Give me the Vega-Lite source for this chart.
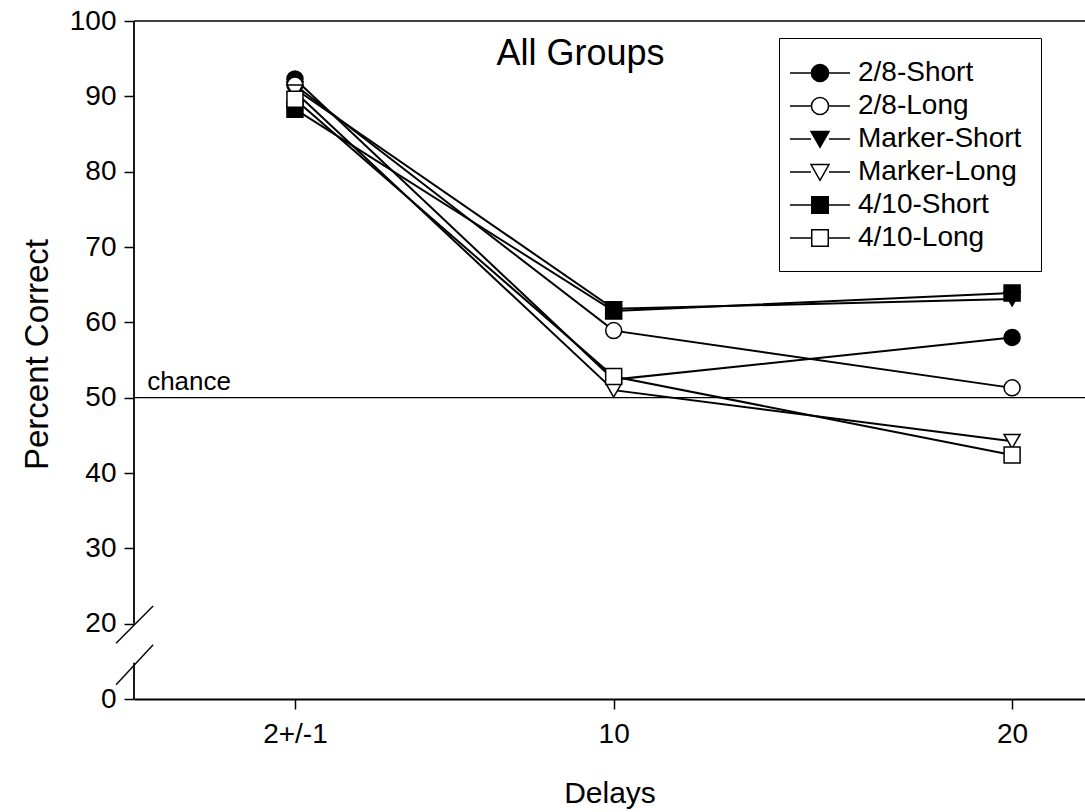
{
  "$schema": "https://vega.github.io/schema/vega-lite/v6.json",
  "width": 951,
  "height": 678,
  "autosize": {"type": "none"},
  "padding": {"left": 134, "top": 21, "right": 0, "bottom": 113},
  "background": "white",
  "title": {
    "text": "All Groups",
    "font": "Liberation Sans",
    "fontSize": 36,
    "fontWeight": "normal",
    "color": "black",
    "anchor": "middle",
    "baseline": "alphabetic",
    "offset": -94,
    "dx": -29
  },
  "config": {
    "view": {"stroke": null},
    "font": "Liberation Sans",
    "axis": {
      "labelFont": "Liberation Sans",
      "titleFont": "Liberation Sans",
      "labelColor": "black",
      "titleColor": "black",
      "domainColor": "black",
      "tickColor": "black",
      "titleFontWeight": "normal",
      "grid": false
    }
  },
  "datasets": {
    "scores": [
      {"group": "2/8-Short", "x": 2, "y": 92.3},
      {"group": "2/8-Short", "x": 10, "y": 52.4},
      {"group": "2/8-Short", "x": 20, "y": 58.0},
      {"group": "Marker-Short", "x": 2, "y": 91.0},
      {"group": "Marker-Short", "x": 10, "y": 61.8},
      {"group": "Marker-Short", "x": 20, "y": 63.1},
      {"group": "4/10-Short", "x": 2, "y": 88.3},
      {"group": "4/10-Short", "x": 10, "y": 61.5},
      {"group": "4/10-Short", "x": 20, "y": 63.9},
      {"group": "2/8-Long", "x": 2, "y": 91.5},
      {"group": "2/8-Long", "x": 10, "y": 58.9},
      {"group": "2/8-Long", "x": 20, "y": 51.3},
      {"group": "Marker-Long", "x": 2, "y": 90.6},
      {"group": "Marker-Long", "x": 10, "y": 51.0},
      {"group": "Marker-Long", "x": 20, "y": 44.2},
      {"group": "4/10-Long", "x": 2, "y": 89.6},
      {"group": "4/10-Long", "x": 10, "y": 52.8},
      {"group": "4/10-Long", "x": 20, "y": 42.4}
    ],
    "hlines": [{"y": 50}, {"y": 100}],
    "yaxis": [
      {"x": -2.04, "y": 20, "y2": 100},
      {"x": -2.04, "y": 10, "y2": 14.8}
    ],
    "breaks": [
      {"x": -2.49, "y": 17.4, "x2": -1.56, "y2": 22.35},
      {"x": -2.49, "y": 11.9, "x2": -1.56, "y2": 17.2}
    ],
    "notes": [{"x": -1.71, "y": 50, "label": "chance"}]
  },
  "layer": [
    {
      "data": {"name": "hlines"},
      "mark": {"type": "rule", "color": "black", "strokeWidth": 1.3},
      "encoding": {
        "y": {"field": "y", "type": "quantitative", "scale": {"domain": [10, 100], "nice": false, "zero": false}}
      }
    },
    {
      "data": {"name": "yaxis"},
      "mark": {"type": "rule", "color": "black", "strokeWidth": 1.8},
      "encoding": {
        "x": {"field": "x", "type": "quantitative", "scale": {"domain": [-2.04, 21.83], "nice": false, "zero": false}},
        "y": {"field": "y", "type": "quantitative", "scale": {"domain": [10, 100], "nice": false, "zero": false}},
        "y2": {"field": "y2"}
      }
    },
    {
      "data": {"name": "breaks"},
      "mark": {"type": "rule", "color": "black", "strokeWidth": 1.4},
      "encoding": {
        "x": {"field": "x", "type": "quantitative", "scale": {"domain": [-2.04, 21.83], "nice": false, "zero": false}},
        "y": {"field": "y", "type": "quantitative", "scale": {"domain": [10, 100], "nice": false, "zero": false}},
        "x2": {"field": "x2"},
        "y2": {"field": "y2"}
      }
    },
    {
      "data": {"name": "notes"},
      "mark": {"type": "text", "align": "left", "baseline": "alphabetic", "dy": -8, "fontSize": 26, "font": "Liberation Sans", "color": "black"},
      "encoding": {
        "x": {"field": "x", "type": "quantitative", "scale": {"domain": [-2.04, 21.83], "nice": false, "zero": false}},
        "y": {"field": "y", "type": "quantitative", "scale": {"domain": [10, 100], "nice": false, "zero": false}},
        "text": {"field": "label"}
      }
    },
    {
      "data": {"name": "scores"},
      "mark": {"type": "line", "color": "black", "strokeWidth": 2},
      "encoding": {
        "x": {
          "field": "x", "type": "quantitative",
          "scale": {"domain": [-2.04, 21.83], "nice": false, "zero": false},
          "axis": {
            "title": "Delays",
            "values": [2, 10, 20],
            "labelExpr": "datum.value == 2 ? '2+/-1' : datum.label",
            "labelFontSize": 28,
            "labelPadding": 11,
            "tickSize": 10,
            "tickWidth": 1.5,
            "domainWidth": 1.8,
            "titleFontSize": 30,
            "titleBaseline": "alphabetic",
            "titleY": 103
          }
        },
        "y": {
          "field": "y", "type": "quantitative",
          "scale": {"domain": [10, 100], "nice": false, "zero": false},
          "axis": {
            "title": "Percent Correct",
            "values": [10, 20, 30, 40, 50, 60, 70, 80, 90, 100],
            "labelExpr": "datum.value == 10 ? '0' : datum.label",
            "domain": false,
            "labelFontSize": 28,
            "labelPadding": 8,
            "tickSize": 10,
            "tickWidth": 1.5,
            "titleFontSize": 33,
            "titleAngle": -90,
            "titleAlign": "center",
            "titleBaseline": "alphabetic",
            "titleX": -87,
            "titleY": 333
          }
        },
        "detail": {"field": "group"}
      }
    },
    {
      "data": {"name": "scores"},
      "mark": {"type": "point", "filled": true, "stroke": "black", "strokeWidth": 1.5, "size": 256, "opacity": 1},
      "encoding": {
        "x": {"field": "x", "type": "quantitative", "scale": {"domain": [-2.04, 21.83], "nice": false, "zero": false}},
        "y": {"field": "y", "type": "quantitative", "scale": {"domain": [10, 100], "nice": false, "zero": false}},
        "shape": {
          "field": "group", "type": "nominal",
          "scale": {
            "domain": ["2/8-Short", "2/8-Long", "Marker-Short", "Marker-Long", "4/10-Short", "4/10-Long"],
            "range": ["circle", "circle", "triangle-down", "triangle-down", "square", "square"]
          },
          "legend": null
        },
        "fill": {
          "field": "group", "type": "nominal",
          "scale": {
            "domain": ["2/8-Short", "2/8-Long", "Marker-Short", "Marker-Long", "4/10-Short", "4/10-Long"],
            "range": ["black", "white", "black", "white", "black", "white"]
          },
          "legend": null
        }
      }
    },
    {
      "data": {"name": "scores"},
      "transform": [{"filter": "false"}],
      "mark": {"type": "point", "filled": true, "strokeWidth": 1.5, "opacity": 1},
      "encoding": {
        "shape": {
          "field": "group", "type": "nominal",
          "scale": {
            "domain": ["2/8-Short", "2/8-Long", "Marker-Short", "Marker-Long", "4/10-Short", "4/10-Long"],
            "range": [
              "M-2,0H-0.57M0.57,0H2M0.57,0A0.57,0.57 0 1,1 -0.57,0A0.57,0.57 0 1,1 0.57,0Z",
              "M-2,0H-0.57M0.57,0H2M0.57,0A0.57,0.57 0 1,1 -0.57,0A0.57,0.57 0 1,1 0.57,0Z",
              "M-2,0H-0.6M0.6,0H2M-0.6,-0.5H0.6L0,0.55Z",
              "M-2,0H-0.6M0.6,0H2M-0.6,-0.5H0.6L0,0.55Z",
              "M-2,0H-0.55M0.55,0H2M-0.55,-0.55H0.55V0.55H-0.55Z",
              "M-2,0H-0.55M0.55,0H2M-0.55,-0.55H0.55V0.55H-0.55Z"
            ]
          },
          "legend": {
            "title": null,
            "orient": "none",
            "legendX": 645,
            "legendY": 17,
            "strokeColor": "black",
            "fillColor": "white",
            "padding": 19,
            "rowPadding": 3,
            "symbolSize": 900,
            "symbolOffset": 6,
            "symbolStrokeWidth": 1.5,
            "symbolOpacity": 1,
            "labelFont": "Liberation Sans",
            "labelFontSize": 28,
            "labelColor": "black",
            "labelOffset": 22,
            "labelLimit": 400
          }
        },
        "fill": {
          "field": "group", "type": "nominal",
          "scale": {
            "domain": ["2/8-Short", "2/8-Long", "Marker-Short", "Marker-Long", "4/10-Short", "4/10-Long"],
            "range": ["black", "white", "black", "white", "black", "white"]
          },
          "legend": {
            "title": null,
            "orient": "none",
            "legendX": 645,
            "legendY": 17,
            "strokeColor": "black",
            "fillColor": "white",
            "padding": 19,
            "rowPadding": 3,
            "symbolSize": 900,
            "symbolOffset": 6,
            "symbolStrokeWidth": 1.5,
            "symbolOpacity": 1,
            "labelFont": "Liberation Sans",
            "labelFontSize": 28,
            "labelColor": "black",
            "labelOffset": 22,
            "labelLimit": 400
          }
        },
        "stroke": {
          "field": "group", "type": "nominal",
          "scale": {
            "domain": ["2/8-Short", "2/8-Long", "Marker-Short", "Marker-Long", "4/10-Short", "4/10-Long"],
            "range": ["black", "black", "black", "black", "black", "black"]
          },
          "legend": {
            "title": null,
            "orient": "none",
            "legendX": 645,
            "legendY": 17,
            "strokeColor": "black",
            "fillColor": "white",
            "padding": 19,
            "rowPadding": 3,
            "symbolSize": 900,
            "symbolOffset": 6,
            "symbolStrokeWidth": 1.5,
            "symbolOpacity": 1,
            "labelFont": "Liberation Sans",
            "labelFontSize": 28,
            "labelColor": "black",
            "labelOffset": 22,
            "labelLimit": 400
          }
        }
      }
    }
  ],
  "resolve": {"scale": {"shape": "independent", "fill": "independent", "stroke": "independent"}}
}
